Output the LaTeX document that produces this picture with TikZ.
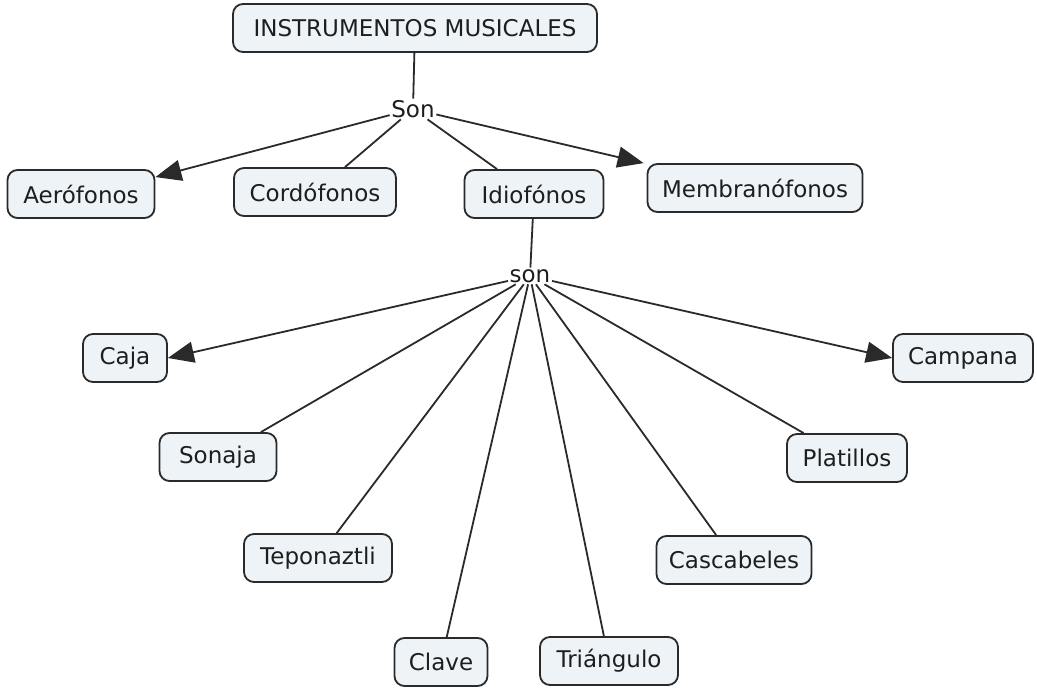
\documentclass[tikz,border=0pt]{standalone}
\usepackage{fontspec}
\setmainfont{DejaVu Sans}
\usetikzlibrary{arrows.meta,calc}
\definecolor{boxfill}{HTML}{EDF3F6}
\definecolor{boxline}{HTML}{2A2A2A}
\definecolor{txt}{HTML}{1E1E1E}
\tikzset{
  concept/.style={draw=boxline, fill=boxfill, line width=1.8pt, rounded corners=10pt,
    minimum height=48pt, inner xsep=12pt, text=txt,
    font=\fontsize{23}{27}\selectfont},
  linker/.style={inner sep=1.5pt, text=txt, font=\fontsize{23}{27}\selectfont},
  conn/.style={draw=boxline, line width=1.8pt},
  arr/.style={conn, -{Triangle[length=26pt,width=21pt]}}
}
\begin{document}
\begin{tikzpicture}[x=1pt,y=-1pt]
\useasboundingbox[fill=white] (0,0) rectangle (1037,698);
\node[concept, minimum width=364pt] (im) at (415,28) {INSTRUMENTOS MUSICALES};
\node[linker] (son1) at (413,109) {Son};
\node[concept, minimum width=147pt] (aero) at (81,194) {Aerófonos};
\node[concept, minimum width=162pt] (cord) at (315,192) {Cordófonos};
\node[concept, minimum width=139pt] (idio) at (534,194) {Idiofónos};
\node[concept, minimum width=215pt] (memb) at (755,188) {Membranófonos};
\node[linker] (son2) at (530,276) {son};
\node[concept, minimum width=84pt] (caja) at (125,358) {Caja};
\node[concept, minimum width=140pt] (camp) at (963,358) {Campana};
\node[concept, minimum width=117pt] (sona) at (218,457) {Sonaja};
\node[concept, minimum width=120pt] (plat) at (847,458) {Platillos};
\node[concept, minimum width=148pt] (tepo) at (318,558) {Teponaztli};
\node[concept, minimum width=155pt] (casc) at (734,560) {Cascabeles};
\node[concept, minimum width=93pt] (clav) at (441,662) {Clave};
\node[concept, minimum width=138pt] (tria) at (609,661) {Triángulo};

\draw[conn] (im) -- (son1);
\draw[arr] (son1) -- ($(aero.north east)+(0,8)$);
\draw[conn] (son1) -- ($(cord.north)+(30,0)$);
\draw[conn] (son1) -- ($(idio.north)+(-37,0)$);
\draw[arr] (son1) -- ($(memb.north west)+(-3,0)$);
\draw[conn] (idio) -- (son2);
\draw[arr] (son2) -- (caja.east);
\draw[arr] (son2) -- (camp.west);
\draw[conn] (son2) -- (sona);
\draw[conn] (son2) -- (plat);
\draw[conn] (son2) -- (tepo);
\draw[conn] (son2) -- (casc);
\draw[conn] (son2) -- (clav);
\draw[conn] (son2) -- (tria);
\end{tikzpicture}
\end{document}
